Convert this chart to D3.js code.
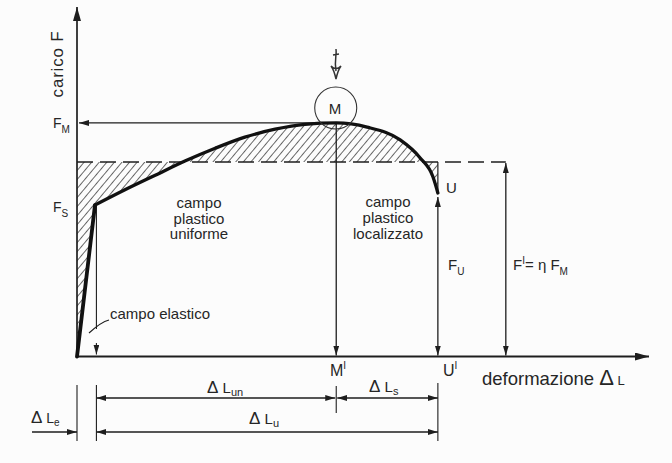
<!DOCTYPE html>
<html>
<head>
<meta charset="utf-8">
<script src="https://cdn.jsdelivr.net/npm/d3@7"></script>
<style>
  body { margin: 0; background: #fcfcfc; }
  text { font-family: "Liberation Sans", Arial, sans-serif; fill: #262626; }
</style>
</head>
<body>
<svg id="chart"></svg>
<script>
// ------------------------------------------------------------------
//  diagramma carico - deformazione (prova di trazione)
// ------------------------------------------------------------------

// curve points [deformazione, carico] (arbitrary units 0..100)
const elasticPts = [[0, 0], [3.15, 43.7]];
const plasticPts = [
  [3.15, 43.7], [8.4, 48.1], [13.7, 52.3], [18.9, 56.4], [24.2, 60.1],
  [29.4, 63.3], [34.7, 65.6], [39.9, 67.0], [45.4, 67.4], [50.8, 66.2],
  [56.6, 62.5], [60.1, 57.3], [62.35, 51.8], [63.2, 47.2],
];

// load levels
const F_M = 67.4;
const F_P = 56.1; // F' = eta F_M
const F_S = 43.7;
const F_U = 47.2;

// deformation marks
const dL_e = 3.4;
const x_M = 45.4;
const x_U = 63.2;
const x_Fp = 75.1;

const width = 672;
const height = 463;

const svg = d3.select("#chart").attr("width", width).attr("height", height);

const x = d3.scaleLinear().domain([0, 100]).range([77, 648]);
const y = d3.scaleLinear().domain([0, 100]).range([356.5, 10]);

const ink = "#1e1e1e";

//markers + hatch
const defs = svg.append("defs");
function addMarker(id, len, w) {
  defs
    .append("marker")
    .attr("id", id)
    .attr("viewBox", `0 0 ${len} ${w}`)
    .attr("refX", len)
    .attr("refY", w / 2)
    .attr("markerWidth", len)
    .attr("markerHeight", w)
    .attr("markerUnits", "userSpaceOnUse")
    .attr("orient", "auto-start-reverse")
    .append("path")
    .attr("d", `M0,0L${len},${w / 2}L0,${w}Z`)
    .attr("fill", ink);
}
addMarker("arr", 10, 6);
addMarker("big", 14, 8);

defs
  .append("pattern")
  .attr("id", "hatch")
  .attr("patternUnits", "userSpaceOnUse")
  .attr("width", 5.8)
  .attr("height", 5.8)
  .attr("patternTransform", "rotate(40)")
  .append("line")
  .attr("x1", 0).attr("y1", 0)
  .attr("x2", 0).attr("y2", 5.8)
  .attr("stroke", "#2a2a2a")
  .attr("stroke-width", 1.4);

const lineGen = d3
  .line()
  .x((d) => x(d[0]))
  .y((d) => y(d[1]))
  .curve(d3.curveMonotoneX);
const plasticD = lineGen(plasticPts);

// hatched area between the curve and the F' level
const hatchD =
  `M${x(0)},${y(0)}L` +
  plasticD.slice(1) +
  `L${x(x_U)},${y(F_P)}L${x(0)},${y(F_P)}Z`;
svg.append("path").attr("d", hatchD).attr("fill", "url(#hatch)");

// dashed F' level
svg
  .append("line")
  .attr("x1", x(0)).attr("y1", y(F_P))
  .attr("x2", x(x_Fp)).attr("y2", y(F_P))
  .attr("stroke", ink)
  .attr("stroke-width", 1.5)
  .attr("stroke-dasharray", "16,7");

function seg(x1, y1, x2, y2, opts = {}) {
  const l = svg
    .append("line")
    .attr("x1", x1).attr("y1", y1)
    .attr("x2", x2).attr("y2", y2)
    .attr("stroke", ink)
    .attr("stroke-width", opts.w || 1.3);
  if (opts.end) l.attr("marker-end", `url(#${opts.end})`);
  if (opts.start) l.attr("marker-start", `url(#${opts.start})`);
  return l;
}

//axes
seg(x(0), y(0), x(0), 7, { w: 1.7, end: "big" });
seg(x(0), y(0), 649, y(0), { w: 1.9, end: "big" });

// F_M arrow and M vertical
seg(x(x_M), y(F_M), x(0) + 2, y(F_M), { end: "arr" });
seg(x(x_M), y(F_M), x(x_M), y(0) - 1, { end: "arr" });

// F_U
seg(x(x_U), y(0) - 1, x(x_U), y(F_U) + 4, { start: "arr", end: "arr" });
seg(x(x_U), y(F_U), x(x_U), y(F_P), { w: 1.2 });

// F' = eta F_M
seg(x(x_Fp), y(0) - 1, x(x_Fp), y(F_P) + 1, { start: "arr", end: "arr" });

// thin line under F_S
seg(x(dL_e), y(F_S), x(dL_e), 329, { w: 1.1 });
seg(x(dL_e), 343, x(dL_e), y(0) - 2, { w: 1.1, end: "arr" });

// the curve
svg
  .append("path")
  .attr("d", d3.line().x((d) => x(d[0])).y((d) => y(d[1]))(elasticPts))
  .attr("fill", "none")
  .attr("stroke", "#111")
  .attr("stroke-width", 3.8)
  .attr("stroke-linecap", "round");
svg
  .append("path")
  .attr("d", plasticD)
  .attr("fill", "none")
  .attr("stroke", "#111")
  .attr("stroke-width", 3.3)
  .attr("stroke-linecap", "round");

// circle M + hand drawn arrow
svg
  .append("circle")
  .attr("cx", x(x_M) - 0.5)
  .attr("cy", y(F_M) - 15)
  .attr("r", 21)
  .attr("fill", "none")
  .attr("stroke", "#333")
  .attr("stroke-width", 1.1);
svg
  .append("path")
  .attr("d", "M336,49 C337,55 334,60 336,71 M333,55 L339,54 M331,66 Q334,70 336,79 Q338,70 341,66 Q336,71 331,66Z")
  .attr("fill", "none")
  .attr("stroke", "#333")
  .attr("stroke-width", 1.5);

// dimension lines
const row1 = 398;
const row2 = 432;
seg(x(dL_e), row1, x(x_M) - 1, row1, { start: "arr", end: "arr" });
seg(x(x_M) + 1, row1, x(x_U), row1, { start: "arr", end: "arr" });
seg(x(dL_e), row2, x(x_U), row2, { start: "arr", end: "arr" });
seg(32, row2, x(0), row2, { end: "arr" });
seg(x(0), 385, x(0), 441, { w: 1.1 });
seg(x(dL_e), 385, x(dL_e), 441, { w: 1.1 });
seg(x(x_M), 386, x(x_M), 413, { w: 1.1 });
seg(x(x_U), 383, x(x_U), 441, { w: 1.1 });

// --- texts
function label(tx, ty, parts, anchor = "start") {
  const t = svg.append("text").attr("x", tx).attr("y", ty).attr("text-anchor", anchor);
  parts.forEach((p) => {
    const s = t.append("tspan").text(p.t).style("font-size", `${p.s}px`);
    if (p.dy) s.attr("dy", p.dy);
  });
  return t;
}

svg
  .append("text")
  .attr("transform", "translate(63,64) rotate(-90)")
  .attr("text-anchor", "middle")
  .style("font-size", "17px")
  .style("letter-spacing", "0.8px")
  .text("carico F");

label(53, 128, [{ t: "F", s: 14 }, { t: "M", s: 10, dy: 5 }]);
label(53, 212, [{ t: "F", s: 14 }, { t: "S", s: 10, dy: 5 }]);

label(335, 114, [{ t: "M", s: 15 }], "middle");
label(446, 193, [{ t: "U", s: 15 }]);
label(448, 270, [{ t: "F", s: 15 }, { t: "U", s: 10, dy: 5 }]);
label(513, 270, [
  { t: "F", s: 15 },
  { t: "I", s: 10, dy: -6 },
  { t: "= η F", s: 15, dy: 6 },
  { t: "M", s: 10, dy: 5 },
]);

const uniforme = ["campo", "plastico", "uniforme"];
uniforme.forEach((w, i) => label(199, 208 + i * 15.5, [{ t: w, s: 15 }], "middle"));
const localizzato = ["campo", "plastico", "localizzato"];
localizzato.forEach((w, i) => label(388, 207 + i * 16, [{ t: w, s: 15 }], "middle"));

label(110, 319, [{ t: "campo elastico", s: 15 }]);
svg
  .append("path")
  .attr("d", "M109,320 Q101,322 89,333")
  .attr("fill", "none")
  .attr("stroke", ink)
  .attr("stroke-width", 1.1);

label(330, 376, [{ t: "M", s: 16 }, { t: "I", s: 10, dy: -7 }]);
label(443, 376, [{ t: "U", s: 16 }, { t: "I", s: 10, dy: -7 }]);
label(482, 385, [{ t: "deformazione ", s: 18.5 }, { t: "Δ", s: 22 }, { t: " L", s: 13 }]);

label(207, 393, [{ t: "Δ", s: 17 }, { t: " L", s: 15 }, { t: "un", s: 11, dy: 3 }]);
label(369, 392, [{ t: "Δ", s: 17 }, { t: " L", s: 15 }, { t: "s", s: 11, dy: 3 }]);
label(249, 424, [{ t: "Δ", s: 17 }, { t: " L", s: 15 }, { t: "u", s: 11, dy: 3 }]);
label(31, 423, [{ t: "Δ", s: 17 }, { t: " L", s: 14 }, { t: "e", s: 10, dy: 3 }]);
</script>
</body>
</html>
